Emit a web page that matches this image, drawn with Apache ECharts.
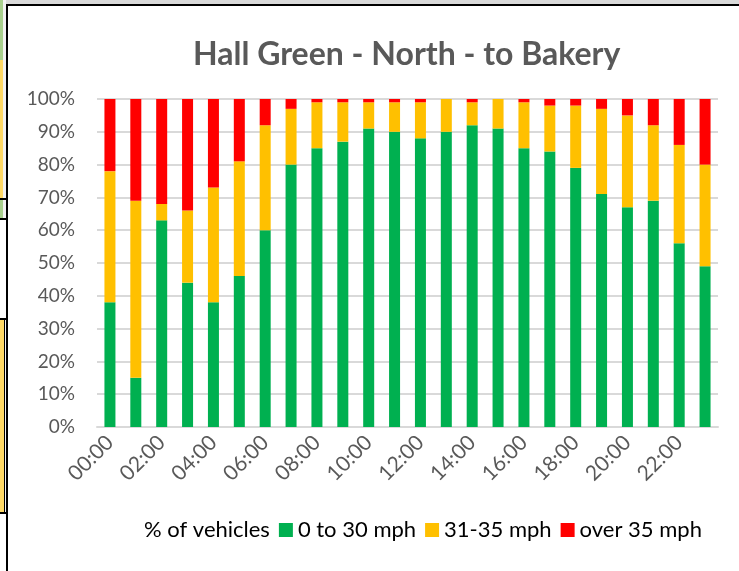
<!DOCTYPE html>
<html>
<head>
<meta charset="utf-8">
<script src="https://cdn.jsdelivr.net/npm/echarts@6/dist/echarts.min.js"></script>
<style>
  html, body { margin: 0; padding: 0; background: #fff; }
  #wrap { position: relative; width: 739px; height: 571px; overflow: hidden; }
  #chart { position: absolute; left: 0; top: 0; width: 739px; height: 571px; }
  .edge { position: absolute; }
</style>
</head>
<body>
<div id="wrap">
  <div id="chart"></div>
  <!-- bits of the spreadsheet around the chart -->
  <div class="edge" style="left:0;top:0;width:739px;height:4px;background:#d9d9d9"></div>
  <div class="edge" style="left:6px;top:4px;width:733px;height:2px;background:#000"></div>
  <div class="edge" style="left:0;top:0;width:6px;height:571px;background:#f2f2f2"></div>
  <div class="edge" style="left:0;top:0;width:3px;height:60px;background:#a9d08e"></div>
  <div class="edge" style="left:0;top:60px;width:3px;height:138px;background:#ffd966"></div>
  <div class="edge" style="left:0;top:198px;width:6px;height:2px;background:#000"></div>
  <div class="edge" style="left:0;top:200px;width:3px;height:18px;background:#a9d08e"></div>
  <div class="edge" style="left:0;top:218px;width:6px;height:2px;background:#000"></div>
  <div class="edge" style="left:0;top:220px;width:6px;height:98px;background:#fff"></div>
  <div class="edge" style="left:0;top:318px;width:6px;height:2px;background:#000"></div>
  <div class="edge" style="left:0;top:320px;width:4px;height:192px;background:#ffd966"></div>
  <div class="edge" style="left:4px;top:320px;width:1px;height:192px;background:#000"></div>
  <div class="edge" style="left:0;top:512px;width:6px;height:2px;background:#000"></div>
  <div class="edge" style="left:0;top:514px;width:6px;height:57px;background:#fff"></div>
  <div class="edge" style="left:6px;top:4px;width:2px;height:567px;background:#000"></div>
</div>
<script>
const hours = ['00:00', '01:00', '02:00', '03:00', '04:00', '05:00', '06:00', '07:00',
  '08:00', '09:00', '10:00', '11:00', '12:00', '13:00', '14:00', '15:00',
  '16:00', '17:00', '18:00', '19:00', '20:00', '21:00', '22:00', '23:00']

// share of vehicles in each speed band, %
const upTo30 = [38, 15, 63, 44, 38, 46, 60, 80, 85, 87, 91, 90, 88, 90, 92, 91, 85, 84, 79, 71, 67, 69, 56, 49]
const from31to35 = [40, 54, 5, 22, 35, 35, 32, 17, 14, 12, 8, 9, 11, 10, 7, 9, 14, 14, 19, 26, 28, 23, 30, 31]
const over35 = [22, 31, 32, 34, 27, 19, 8, 3, 1, 1, 1, 1, 1, 0, 1, 0, 1, 2, 2, 3, 5, 8, 14, 20]

const font = 'Lato, "Noto Sans", sans-serif'
const grey = '#595959'
const gridGrey = '#d9d9d9'

const chart = echarts.init(document.getElementById('chart'))

const bar = (name, data, color) => ({
  name,
  type: 'bar',
  stack: 'speed',
  data,
  barWidth: 11,
  itemStyle: { color },
  emphasis: { disabled: true }
})

chart.setOption({
  animation: false,
  title: {
    text: 'Hall Green - North - to Bakery',
    left: 188,
    top: 34,
    textStyle: { fontFamily: font, fontSize: 32, fontWeight: 'bold', color: grey }
  },
  legend: {
    left: 120,
    top: 514,
    itemWidth: 14,
    itemHeight: 14,
    itemGap: 9,
    textStyle: { fontFamily: font, fontSize: 22, color: '#000' },
    data: [
      { name: '% of vehicles', icon: 'none' },
      { name: '0 to 30 mph', icon: 'rect' },
      { name: '31-35 mph', icon: 'rect' },
      { name: 'over 35 mph', icon: 'rect' }
    ]
  },
  grid: { left: 97, right: 21, top: 99, bottom: 144 },
  xAxis: {
    type: 'category',
    data: hours,
    axisTick: { show: false },
    axisLine: { lineStyle: { color: gridGrey, width: 2 } },
    axisLabel: {
      interval: 1,
      rotate: 45,
      margin: 12,
      fontFamily: font,
      fontSize: 21,
      color: grey
    }
  },
  yAxis: {
    type: 'value',
    min: 0,
    max: 100,
    interval: 10,
    axisLabel: {
      formatter: '{value}%',
      margin: 22,
      fontFamily: font,
      fontSize: 19,
      color: grey
    },
    splitLine: { lineStyle: { color: gridGrey, width: 2 } }
  },
  series: [
    { name: '% of vehicles', type: 'line', data: [] },
    bar('0 to 30 mph', upTo30, '#00b050'),
    bar('31-35 mph', from31to35, '#ffc000'),
    bar('over 35 mph', over35, '#ff0000')
  ]
})
</script>
</body>
</html>
